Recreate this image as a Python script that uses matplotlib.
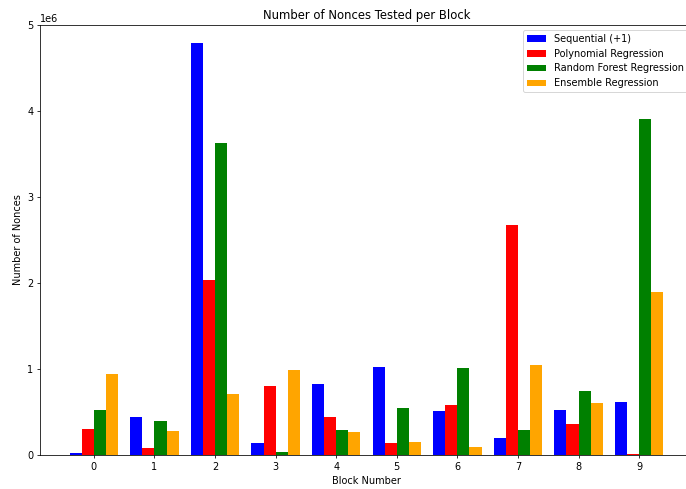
import numpy as np
import matplotlib
matplotlib.use('Agg')
import matplotlib.pyplot as plt

# Block numbers and nonces tested per method
blocks = np.arange(10)
sequential = [0.025e6, 0.437e6, 4.79e6, 0.142e6, 0.82e6, 1.027e6, 0.506e6, 0.20e6, 0.518e6, 0.619e6]
polynomial = [0.305e6, 0.087e6, 2.04e6, 0.806e6, 0.445e6, 0.142e6, 0.584e6, 2.68e6, 0.355e6, 0.01e6]
random_forest = [0.526e6, 0.40e6, 3.63e6, 0.037e6, 0.293e6, 0.541e6, 1.015e6, 0.285e6, 0.74e6, 3.905e6]
ensemble = [0.937e6, 0.274e6, 0.708e6, 0.984e6, 0.265e6, 0.154e6, 0.095e6, 1.042e6, 0.603e6, 1.90e6]

series = [('Sequential (+1)', sequential, 'blue'),
          ('Polynomial Regression', polynomial, 'red'),
          ('Random Forest Regression', random_forest, 'green'),
          ('Ensemble Regression', ensemble, 'orange')]

width = 0.2

# original looks like a 10x7 figure, cropped on the right
fig = plt.figure(figsize=(686/70, 489/70), dpi=70)
ax = fig.add_axes([40/686, 34/489, 653/686, 430/489])

for i, (name, vals, col) in enumerate(series):
    ax.bar(blocks + (i - 1.5)*width, vals, width, label=name, color=col)

ax.set_xticks(blocks)
ax.set_ylim(0, 5e6)
ax.set_xlabel('Block Number')
ax.set_ylabel('Number of Nonces')
ax.set_title('Number of Nonces Tested per Block')
ax.legend(loc='upper right')

fig.savefig('out.png', dpi=70)
